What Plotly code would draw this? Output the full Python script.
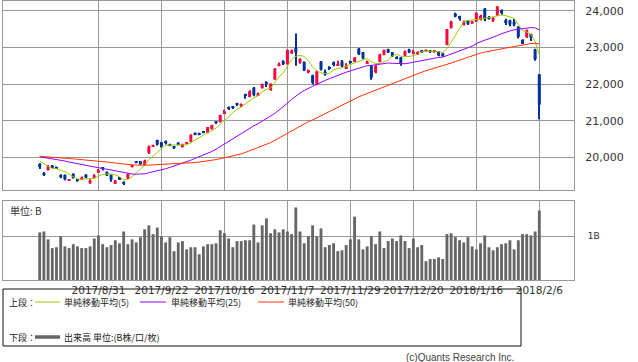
import plotly.graph_objects as go
import pandas as pd

# ---------------- data ----------------
dates = [
    "2017/8/10", "2017/8/14", "2017/8/15", "2017/8/16", "2017/8/17", "2017/8/18", "2017/8/21", "2017/8/22",
    "2017/8/23", "2017/8/24", "2017/8/25", "2017/8/28", "2017/8/29", "2017/8/30", "2017/8/31",
    "2017/9/1", "2017/9/4", "2017/9/5", "2017/9/6", "2017/9/7", "2017/9/8", "2017/9/11", "2017/9/12",
    "2017/9/13", "2017/9/14", "2017/9/15", "2017/9/19", "2017/9/20", "2017/9/21", "2017/9/22",
    "2017/9/25", "2017/9/26", "2017/9/27", "2017/9/28", "2017/9/29",
    "2017/10/2", "2017/10/3", "2017/10/4", "2017/10/5", "2017/10/6", "2017/10/10", "2017/10/11",
    "2017/10/12", "2017/10/13", "2017/10/16", "2017/10/17", "2017/10/18", "2017/10/19", "2017/10/20",
    "2017/10/23", "2017/10/24", "2017/10/25", "2017/10/26", "2017/10/27", "2017/10/30", "2017/10/31",
    "2017/11/1", "2017/11/2", "2017/11/6", "2017/11/7", "2017/11/8", "2017/11/9", "2017/11/10",
    "2017/11/13", "2017/11/14", "2017/11/15", "2017/11/16", "2017/11/17", "2017/11/20", "2017/11/21",
    "2017/11/22", "2017/11/24", "2017/11/27", "2017/11/28", "2017/11/29", "2017/11/30",
    "2017/12/1", "2017/12/4", "2017/12/5", "2017/12/6", "2017/12/7", "2017/12/8", "2017/12/11",
    "2017/12/12", "2017/12/13", "2017/12/14", "2017/12/15", "2017/12/18", "2017/12/19", "2017/12/20",
    "2017/12/21", "2017/12/22", "2017/12/25", "2017/12/26", "2017/12/27", "2017/12/28", "2017/12/29",
    "2018/1/4", "2018/1/5", "2018/1/9", "2018/1/10", "2018/1/11", "2018/1/12", "2018/1/15",
    "2018/1/16", "2018/1/17", "2018/1/18", "2018/1/19", "2018/1/22", "2018/1/23", "2018/1/24",
    "2018/1/25", "2018/1/26", "2018/1/29", "2018/1/30", "2018/1/31",
    "2018/2/1", "2018/2/2", "2018/2/5", "2018/2/6",
]

open_ = [
    19820, 19560, 19660, 19775, 19735, 19500, 19520, 19370, 19550, 19400, 19390, 19525, 19290, 19460, 19585,
    19720, 19600, 19520, 19280, 19450, 19330, 19420, 19735, 19875, 19890, 19790, 20120, 20300, 20475, 20410,
    20440, 20350, 20280, 20400, 20280,
    20385, 20430, 20670, 20660, 20710, 20670, 20770, 20970, 20960, 21210, 21350, 21375, 21460, 21390,
    21710, 21650, 21900, 21690, 21890, 22050, 21840,
    22130, 22500, 22630, 22550, 22840, 22990, 22590, 22610, 22320, 22245, 21975, 22615, 22340, 22470,
    22600, 22520, 22620, 22440, 22630, 22610,
    22970, 22870, 22575, 22510, 22320, 22610, 22800, 22960, 22870, 22730, 22730, 22780, 22950, 22840,
    22840, 22910, 22900, 22900, 22890, 22890, 22840,
    23073, 23540, 23930, 23860, 23620, 23735, 23660, 23720, 23760, 24060, 23830, 23740, 23890, 24030,
    23750, 23750, 23700, 23570, 23210,
    23280, 23370, 22945, 22270,
]
high = [
    19840, 19600, 19790, 19790, 19750, 19540, 19530, 19410, 19560, 19410, 19475, 19535, 19400, 19540, 19680,
    19735, 19610, 19530, 19380, 19460, 19340, 19560, 19800, 19895, 19900, 19930, 20320, 20340, 20480, 20420,
    20460, 20370, 20300, 20410, 20370,
    20420, 20630, 20680, 20670, 20720, 20830, 20890, 20990, 21160, 21300, 21390, 21400, 21490, 21470,
    21740, 21830, 21920, 21770, 22010, 22080, 22020,
    22440, 22590, 22650, 22940, 22950, 23382, 22710, 22620, 22400, 22260, 22370, 22630, 22400, 22490,
    22620, 22640, 22660, 22570, 22640, 22740,
    22990, 22880, 22640, 22520, 22520, 22830, 22940, 22970, 22880, 22760, 22740, 22920, 22970, 22940,
    22900, 22930, 22950, 22920, 22920, 22900, 22850,
    23506, 23730, 23952, 23870, 23740, 23750, 23730, 23960, 23900, 24084, 23860, 23830, 24129, 24040,
    23790, 23760, 23780, 23580, 23230,
    23490, 23380, 22970, 22270,
]
low = [
    19680, 19490, 19640, 19700, 19680, 19430, 19370, 19350, 19420, 19330, 19380, 19430, 19280, 19440, 19570,
    19640, 19490, 19330, 19270, 19380, 19240, 19410, 19720, 19840, 19800, 19780, 20090, 20280, 20320, 20270,
    20350, 20300, 20230, 20330, 20270,
    20360, 20420, 20600, 20600, 20660, 20660, 20760, 20910, 20950, 21200, 21290, 21320, 21400, 21380,
    21600, 21640, 21670, 21680, 21880, 21920, 21820,
    22120, 22490, 22520, 22540, 22830, 22500, 22560, 22360, 22300, 21990, 21970, 22370, 22230, 22390,
    22490, 22510, 22460, 22420, 22560, 22600,
    22800, 22680, 22560, 22120, 22300, 22600, 22790, 22850, 22740, 22680, 22500, 22770, 22850, 22820,
    22800, 22860, 22880, 22870, 22860, 22760, 22750,
    23065, 23520, 23830, 23730, 23600, 23620, 23650, 23700, 23740, 23720, 23770, 23700, 23870, 23900,
    23620, 23580, 23580, 23250, 23090,
    23260, 23180, 22640, 21040,
]
close = [
    19730, 19537, 19753, 19729, 19703, 19470, 19393, 19384, 19434, 19354, 19453, 19450, 19363, 19507, 19646,
    19691, 19508, 19386, 19358, 19397, 19275, 19546, 19777, 19866, 19807, 19910, 20299, 20310, 20347, 20296,
    20398, 20330, 20267, 20363, 20356,
    20401, 20614, 20627, 20629, 20691, 20824, 20881, 20955, 21155, 21256, 21336, 21363, 21449, 21458,
    21697, 21805, 21708, 21740, 22008, 22012, 22012,
    22420, 22539, 22548, 22938, 22914, 22869, 22681, 22381, 22380, 22028, 22351, 22397, 22262, 22416,
    22523, 22551, 22496, 22486, 22597, 22725,
    22819, 22707, 22622, 22177, 22498, 22811, 22939, 22866, 22758, 22694, 22553, 22902, 22868, 22892,
    22866, 22903, 22939, 22893, 22911, 22784, 22765,
    23506, 23715, 23850, 23788, 23710, 23654, 23715, 23952, 23868, 23763, 23808, 23816, 24124, 23941,
    23669, 23632, 23629, 23292, 23098,
    23486, 23275, 22682, 21440,
]
# closes of the 49 sessions before 2017/8/10 (needed for the moving averages)
prior_close = [
    19860, 20177, 20171, 19980, 19985, 19909, 20013, 19909, 19899, 19884, 19832, 19943,
    20068, 20230, 20139, 20111, 20133, 20153, 20225, 20130, 20220, 20033,
    20056, 20032, 20082, 19994, 19929, 20081, 20195, 20098, 20100, 20119, 20001, 20021,
    20145, 20100, 19976, 19955, 20050, 20080, 19960, 19925,
    19986, 20080, 20029, 19952, 20056, 19996, 19739,
]
# volume, billions of shares
volume = [
    1.09, 1.11, 0.93, 0.73, 0.75, 1.00, 0.77, 0.73, 0.82, 0.77,
    0.73, 0.73, 0.77, 0.95, 1.02, 0.82, 0.75, 0.80, 0.91, 0.84,
    1.11, 0.82, 0.93, 0.86, 0.98, 1.16, 1.25, 1.05, 1.20, 1.00,
    0.86, 0.98, 0.66, 0.86, 0.89, 0.70, 0.75, 0.75, 0.59, 0.77,
    0.82, 0.82, 0.84, 1.14, 1.07, 0.95, 0.75, 0.89, 0.89, 0.91,
    0.91, 1.27, 0.86, 1.25, 1.41, 1.07, 1.16, 1.09, 1.16, 1.11,
    1.05, 1.66, 1.11, 0.84, 1.00, 1.25, 1.00, 1.18, 0.75, 0.80,
    0.84, 0.66, 0.68, 0.80, 0.93, 1.45, 0.93, 0.70, 0.77, 1.00,
    0.82, 1.11, 0.73, 0.89, 0.95, 0.89, 1.02, 0.89, 0.73, 0.95,
    0.75, 0.80, 0.43, 0.48, 0.48, 0.52, 0.48, 1.05, 1.07, 0.98,
    0.91, 0.86, 0.98, 0.77, 0.70, 0.84, 1.02, 0.75, 0.68, 0.75,
    0.82, 0.84, 0.91, 0.70, 0.91, 1.05, 1.05, 1.02, 1.11, 1.59,
]
tick_dates = ["2017/8/31", "2017/9/22", "2017/10/16", "2017/11/7",
              "2017/11/29", "2017/12/20", "2018/1/16", "2018/2/6"]
price_ticks = [20000, 21000, 22000, 23000, 24000]
vol_ticks = [1]
vol_tick_text = ["1B"]
ma_names = ["単純移動平均(5)", "単純移動平均(25)", "単純移動平均(50)"]
ma_windows = [5, 25, 50]

# ---------------- styles ----------------
W, H = 638, 362
UP, DOWN = "#f5083f", "#003399"
MA_COLORS = ["#99cc00", "#9900ff", "#ff3300"]
GRID = "#999999"
VOLC = "#666666"
JP = "Noto Sans CJK JP"
NUM = "DejaVu Sans"


def px(x):
    return x / W


def py(y):
    return 1 - y / H


allc = pd.Series(prior_close + close, dtype=float)
n = len(close)
mas = [allc.rolling(w).mean().iloc[-n:].tolist() for w in ma_windows]

colors = [UP if c >= o else DOWN for o, c in zip(open_, close)]
MIN_BODY = 35
body_h = [max(abs(c - o), MIN_BODY) for o, c in zip(open_, close)]
body_b = [min(o, c) - (bh - abs(c - o)) / 2 for o, c, bh in zip(open_, close, body_h)]

fig = go.Figure()
fig.add_trace(go.Bar(x=dates, y=[h - l for h, l in zip(high, low)], base=low, width=0.24,
                     marker=dict(color=colors, line=dict(width=0)), xaxis="x", yaxis="y"))
fig.add_trace(go.Bar(x=dates, y=body_h, base=body_b, width=0.72,
                     marker=dict(color=colors, line=dict(width=0)), xaxis="x", yaxis="y"))
for ma, col in zip(mas, MA_COLORS):
    fig.add_trace(go.Scatter(x=dates, y=ma, mode="lines", line=dict(color=col, width=1),
                             xaxis="x", yaxis="y"))
fig.add_trace(go.Bar(x=dates, y=volume, width=0.68, marker=dict(color=VOLC, line=dict(width=0)),
                     xaxis="x2", yaxis="y2"))

xr = [-8.74, 127.26]
xdom = [px(3), px(574)]
common_x = dict(type="category", range=xr, domain=xdom, tickvals=tick_dates, showgrid=True,
                gridcolor=GRID, gridwidth=1, showline=True, mirror=True, linecolor=GRID,
                linewidth=1, ticks="", zeroline=False, fixedrange=True, tickangle=0)
fig.update_layout(
    width=W, height=H, margin=dict(l=0, r=0, t=0, b=0),
    paper_bgcolor="white", plot_bgcolor="white", showlegend=False, barmode="overlay",
    font=dict(family=NUM, size=10, color="#333333"),
    xaxis=dict(**common_x, anchor="y", showticklabels=False),
    xaxis2=dict(**common_x, anchor="y2", showticklabels=True, ticktext=tick_dates,
                tickfont=dict(family=NUM, size=10.5, color="#333333")),
    yaxis=dict(domain=[py(190), py(1)], range=[19106, 24273], tickvals=price_ticks,
               tickformat=",d", side="right", showgrid=True, gridcolor=GRID, gridwidth=1,
               showline=True, mirror=True, linecolor=GRID, linewidth=1, ticks="",
               zeroline=False, ticklabelstandoff=8,
               tickfont=dict(family=NUM, size=11, color="#333333"), anchor="x"),
    yaxis2=dict(domain=[py(280), py(201)], range=[0, 1.808], tickvals=vol_ticks,
                ticktext=vol_tick_text, side="right", showgrid=True, gridcolor=GRID,
                gridwidth=1, showline=True, mirror=True, linecolor=GRID, linewidth=1,
                ticks="", zeroline=False, ticklabelstandoff=11,
                tickfont=dict(family=NUM, size=9, color="#333333"), anchor="x2"),
)

ann = []
ann.append(dict(text="単位: B", x=px(8), y=py(210), xanchor="left", yanchor="middle",
                font=dict(family=JP, size=10, color="#333333")))
# legend box
shapes = [dict(type="rect", xref="paper", yref="paper", x0=px(3), x1=px(521), y0=py(346),
               y1=py(289), line=dict(color="#111111", width=1))]
row1, row2 = 302, 337
ann.append(dict(text="上段：", x=px(7), y=py(row1), xanchor="left", yanchor="middle",
                font=dict(family=JP, size=9, color="#222222")))
ann.append(dict(text="下段：", x=px(7), y=py(row2), xanchor="left", yanchor="middle",
                font=dict(family=JP, size=9, color="#222222")))
leg_x = [(35, 60, 62), (140, 166, 169), (258, 284, 286)]
for (a, b, t), col, name in zip(leg_x, MA_COLORS, ma_names):
    shapes.append(dict(type="line", xref="paper", yref="paper", x0=px(a), x1=px(b),
                       y0=py(row1), y1=py(row1), line=dict(color=col, width=1)))
    ann.append(dict(text=name, x=px(t), y=py(row1), xanchor="left", yanchor="middle",
                    font=dict(family=JP, size=9, color="#222222")))
shapes.append(dict(type="line", xref="paper", yref="paper", x0=px(35), x1=px(60),
                   y0=py(row2), y1=py(row2), line=dict(color=VOLC, width=3.5)))
ann.append(dict(text="出来高 単位:(B株/口/枚)", x=px(62), y=py(row2), xanchor="left",
                yanchor="middle", font=dict(family=JP, size=9, color="#222222")))
ann.append(dict(text="(c)Quants Research Inc.", x=px(516), y=py(357), xanchor="right",
                yanchor="middle", font=dict(family="Liberation Sans", size=10, color="#444444")))
for a in ann:
    a.update(xref="paper", yref="paper", showarrow=False)
fig.update_layout(annotations=ann, shapes=shapes)

fig.write_html("out.html", config={"displayModeBar": False},
               post_script="document.body.style.margin='0';document.body.style.overflow='hidden';")
